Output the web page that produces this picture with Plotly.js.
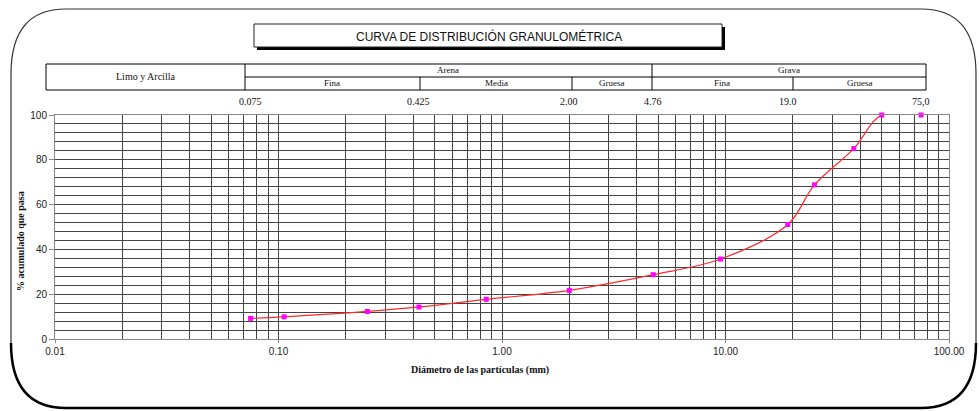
<!DOCTYPE html>
<html>
<head>
<meta charset="utf-8">
<script src="https://cdn.plot.ly/plotly-3.0.1.min.js"></script>
<style>
  body { margin: 0; background: white; }
  #chart { width: 979px; height: 411px; }
</style>
</head>
<body>
<div id="chart"></div>
<script>
// Data
var sizes = [0.075, 0.106, 0.25, 0.425, 0.85, 2.0, 4.75, 9.5, 19.0, 25.0, 37.5, 50.0, 75.0];
var passing = [9.2, 9.9, 12.3, 14.3, 17.7, 21.7, 28.7, 35.7, 51.1, 68.8, 85.0, 100, 100];

// sieve limits written above the plot
var sieveVals = [0.075, 0.425, 2.00, 4.76, 19.0, 75.0];
var sieveText = ['0.075', '0.425', '2.00', '4.76', '19.0', '75,0'];

var xTickVals = [0.01, 0.1, 1, 10, 100];
var xTickText = ['0.01', '0.10', '1.00', '10.00', '100.00'];

// minor log grid (2..9 of every decade)
var minorX = [];
[0.01, 0.1, 1, 10].forEach(function (d) {
  for (var k = 2; k <= 9; k++) minorX.push(d * k);
});

// pixel -> paper helpers (plot area 55..949 x 115..339)
var L = 55, R = 949, T = 115, B = 339;
function px(x) { return (x - L) / (R - L); }
function py(y) { return (B - y) / (B - T); }

var serif = 'Liberation Serif, Times New Roman, serif';
var sans = 'Liberation Sans, Arial, sans-serif';

var shapes = [];
function line(x0, y0, x1, y1, w, c) {
  shapes.push({type: 'line', xref: 'paper', yref: 'paper',
    x0: px(x0), y0: py(y0), x1: px(x1), y1: py(y1),
    line: {color: c || 'black', width: w || 1}});
}

// outer rounded frame
function framePath() {
  var l = 11, r = 976, t = 9, b = 408, rx = 55, ry = 65;
  return 'M ' + px(l + rx) + ',' + py(t) +
    ' L ' + px(r - rx) + ',' + py(t) +
    ' Q ' + px(r) + ',' + py(t) + ' ' + px(r) + ',' + py(t + ry) +
    ' L ' + px(r) + ',' + py(b - ry) +
    ' Q ' + px(r) + ',' + py(b) + ' ' + px(r - rx) + ',' + py(b) +
    ' L ' + px(l + rx) + ',' + py(b) +
    ' Q ' + px(l) + ',' + py(b) + ' ' + px(l) + ',' + py(b - ry) +
    ' L ' + px(l) + ',' + py(t + ry) +
    ' Q ' + px(l) + ',' + py(t) + ' ' + px(l + rx) + ',' + py(t) + ' Z';
}
shapes.push({type: 'path', xref: 'paper', yref: 'paper', path: framePath(),
  line: {color: '#333', width: 1.2}});
// heavier bottom edge
(function () {
  var l = 11, r = 976, b = 408, rx = 55, ry = 65;
  shapes.push({type: 'path', xref: 'paper', yref: 'paper',
    path: 'M ' + px(l) + ',' + py(b - ry) +
      ' Q ' + px(l) + ',' + py(b) + ' ' + px(l + rx) + ',' + py(b) +
      ' L ' + px(r - rx) + ',' + py(b) +
      ' Q ' + px(r) + ',' + py(b) + ' ' + px(r) + ',' + py(b - ry),
    line: {color: 'black', width: 2.5}});
})();

// title box with shadow
shapes.push({type: 'rect', xref: 'paper', yref: 'paper',
  x0: px(257), y0: py(27), x1: px(725), y1: py(50),
  fillcolor: 'black', line: {width: 0}});
shapes.push({type: 'rect', xref: 'paper', yref: 'paper',
  x0: px(254), y0: py(24), x1: px(722), y1: py(47),
  fillcolor: 'white', line: {color: '#222', width: 1}});

// classification table
line(46, 64, 926, 64);
line(46, 90, 926, 90);
line(46, 64, 46, 90);
line(926, 64, 926, 90);
line(245, 64, 245, 90);
line(652, 64, 652, 90);
line(245, 77, 926, 77);
line(420, 77, 420, 90);
line(572, 77, 572, 90);
line(793, 77, 793, 90);

var annotations = [];
function label(text, x, y, size, font, extra) {
  var a = {text: text, xref: 'paper', yref: 'paper', x: px(x), y: py(y),
    showarrow: false, xanchor: 'center', yanchor: 'middle',
    font: {family: font || serif, size: size || 10, color: '#111'}};
  for (var k in extra) a[k] = extra[k];
  annotations.push(a);
}

label('CURVA DE DISTRIBUCIÓN GRANULOMÉTRICA', 489, 36, 12, sans);
label('Limo y Arcilla', 145, 76, 10);
label('Arena', 448, 70, 9);
label('Grava', 789, 70, 9);
label('Fina', 332, 83, 9);
label('Media', 496, 83, 9);
label('Gruesa', 612, 83, 9);
label('Fina', 722, 83, 9);
label('Gruesa', 860, 83, 9);

sieveVals.forEach(function (v, i) {
  annotations.push({text: sieveText[i], xref: 'x', yref: 'paper',
    x: Math.log10(v), y: py(101), showarrow: false,
    xanchor: 'center', yanchor: 'middle',
    font: {family: serif, size: 10, color: '#111'}});
});

label('Diámetro de las partículas (mm)', 480, 370, 10, serif, {font: {family: serif, size: 10, color: '#111', weight: 'bold'}});
label('% acumulado que pasa', 20, 241, 10, serif, {textangle: -90, font: {family: serif, size: 10, color: '#111', weight: 'bold'}});

var curve = {
  x: sizes, y: passing,
  type: 'scatter', mode: 'lines',
  line: {color: '#ff2a2a', width: 1.2, shape: 'spline', smoothing: 1},
  hoverinfo: 'skip'
};
var points = {
  x: sizes, y: passing,
  type: 'scatter', mode: 'markers',
  marker: {symbol: 'square', size: 5, color: '#ff00ff'},
  cliponaxis: false
};

var layout = {
  width: 979, height: 411,
  margin: {l: L, r: 979 - R, t: T, b: 411 - B},
  paper_bgcolor: 'white', plot_bgcolor: 'white',
  showlegend: false,
  font: {family: sans, size: 10, color: '#222'},
  xaxis: {
    type: 'log', range: [-2, 2],
    tickmode: 'array', tickvals: xTickVals, ticktext: xTickText,
    showgrid: true, gridcolor: '#444', gridwidth: 1,
    minor: {tickmode: 'array', tickvals: minorX, showgrid: true, gridcolor: '#444', gridwidth: 1},
    showline: true, linecolor: '#888', mirror: true,
    ticks: 'outside', ticklen: 3, tickcolor: '#888',
    zeroline: false,
    tickfont: {family: sans, size: 10, color: '#222'}
  },
  yaxis: {
    range: [0, 100],
    tickmode: 'array', tickvals: [0, 20, 40, 60, 80, 100],
    showgrid: true, gridcolor: '#444', gridwidth: 1,
    minor: {dtick: 4, showgrid: true, gridcolor: '#444', gridwidth: 1},
    showline: true, linecolor: '#888', mirror: true,
    ticks: 'outside', ticklen: 5, tickcolor: '#888',
    zeroline: false,
    tickfont: {family: sans, size: 10, color: '#222'}
  },
  shapes: shapes,
  annotations: annotations
};

Plotly.newPlot('chart', [curve, points], layout, {staticPlot: true});
</script>
</body>
</html>
